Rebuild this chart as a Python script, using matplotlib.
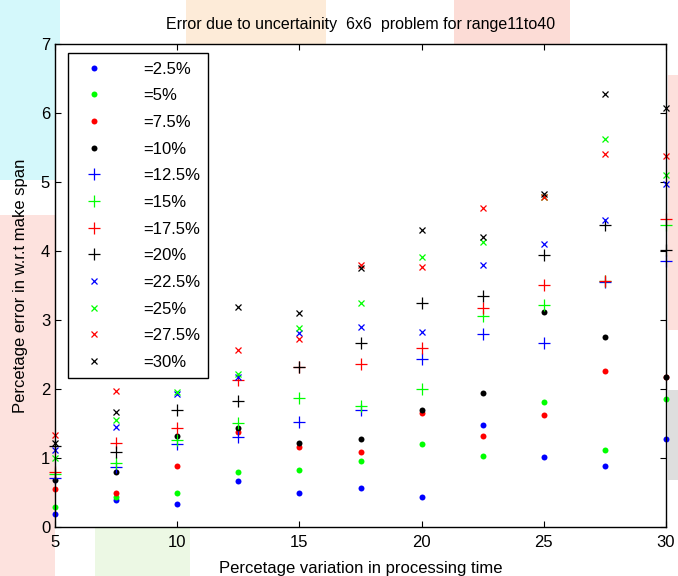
import matplotlib
matplotlib.use("Agg")
import matplotlib.pyplot as plt
from matplotlib.patches import Rectangle

plt.rcParams['font.family'] = ['Liberation Sans', 'DejaVu Sans']

x = [5, 7.5, 10, 12.5, 15, 17.5, 20, 22.5, 25, 27.5, 30]

labels = ["=2.5%", "=5%", "=7.5%", "=10%", "=12.5%", "=15%",
          "=17.5%", "=20%", "=22.5%", "=25%", "=27.5%", "=30%"]

p2_5 = [0.19, 0.39, 0.33, 0.67, 0.50, 0.56, 0.44, 1.48, 1.02, 0.89, 1.28]
p5 = [0.29, 0.44, 0.50, 0.79, 0.83, 0.95, 1.20, 1.03, 1.81, 1.12, 1.86]
p7_5 = [0.55, 0.50, 0.88, 1.38, 1.16, 1.08, 1.65, 1.32, 1.63, 2.26, 2.17]
p10 = [0.68, 0.80, 1.32, 1.44, 1.22, 1.28, 1.69, 1.94, 3.12, 2.76, 2.17]
p12_5 = [0.71, 0.87, 1.21, 1.31, 1.52, 1.69, 2.43, 2.79, 2.67, 3.55, 3.86]
p15 = [0.77, 0.93, 1.26, 1.51, 1.87, 1.75, 2.00, 3.06, 3.22, 3.57, 4.38]
p17_5 = [0.79, 1.22, 1.44, 2.13, 2.32, 2.36, 2.59, 3.18, 3.51, 3.57, 4.47]
p20 = [1.17, 1.09, 1.70, 1.83, 2.32, 2.66, 3.24, 3.35, 3.94, 4.38, 4.01]
p22_5 = [1.12, 1.45, 1.93, 2.18, 2.81, 2.90, 2.83, 3.79, 4.10, 4.45, 4.97]
p25 = [1.00, 1.55, 1.96, 2.22, 2.89, 3.24, 3.92, 4.13, 4.78, 5.62, 5.10]
p27_5 = [1.33, 1.97, 2.40, 2.56, 2.73, 3.80, 3.77, 4.63, 4.78, 5.40, 5.37]
p30 = [1.22, 1.67, 2.90, 3.19, 3.10, 3.75, 4.30, 4.20, 4.83, 6.27, 6.07]

series = [p2_5, p5, p7_5, p10, p12_5, p15, p17_5, p20, p22_5, p25, p27_5, p30]
colors = ['blue', 'lime', 'red', 'black'] * 3
markers = ['o'] * 4 + ['+'] * 4 + ['x'] * 4
sizes = [4.3] * 4 + [9] * 4 + [5] * 4

W, H = 678, 576
fig = plt.figure(figsize=(W / 100, H / 100), dpi=100)


def bg(x0, y0, w, h, c):
    # faded watermark pieces behind the axes (pixel coords, top origin)
    fig.add_artist(Rectangle((x0 / W, 1 - (y0 + h) / H), w / W, h / H,
                             transform=fig.transFigure, color=c, lw=0, zorder=-1))


bg(0, 0, 60, 180, '#d4f8fb')
bg(0, 215, 55, 361, '#fde2de')
bg(186, 0, 140, 44, '#fdebd8')
bg(454, 0, 116, 44, '#fcdcd6')
bg(668, 75, 10, 255, '#fde0dc')
bg(668, 390, 10, 90, '#dedede')
bg(95, 528, 95, 48, '#ecf8e4')

ax = fig.add_axes([55 / W, 49 / H, 611 / W, 483 / H])

for ys, c, m, s, lab in zip(series, colors, markers, sizes, labels):
    if m == 'o':
        ax.plot(x, ys, linestyle='none', marker=m, color=c, markersize=s,
                markeredgewidth=0, label=lab, clip_on=False)
    else:
        ax.plot(x, ys, linestyle='none', marker=m, color=c, markersize=s,
                markeredgewidth=0.9, label=lab, clip_on=False)

ax.set_xlim(5, 30)
ax.set_ylim(0, 7)
ax.set_xticks([5, 10, 15, 20, 25, 30])
ax.set_yticks(range(8))
ax.tick_params(direction='in', length=4, width=0.8, top=True, right=True,
               labelsize=12)
ax.tick_params(axis='x', pad=6)
for sp in ax.spines.values():
    sp.set_linewidth(1)

ax.set_title("Error due to uncertainity  6x6  problem for range11to40",
             fontsize=11.5, pad=11)
ax.set_xlabel("Percetage variation in processing time", fontsize=12, labelpad=8)
ax.set_ylabel("Percetage error in w.r.t make span", fontsize=12, labelpad=9)

leg = ax.legend(loc='upper left', bbox_to_anchor=(0.021, 0.981),
                borderaxespad=0, fontsize=12, labelspacing=0.7,
                handletextpad=1.8, handlelength=2.2, borderpad=0.5,
                fancybox=False, framealpha=1, edgecolor='black')
leg.get_frame().set_linewidth(1)
leg.set_zorder(10)

plt.savefig("out.png", dpi=100)
